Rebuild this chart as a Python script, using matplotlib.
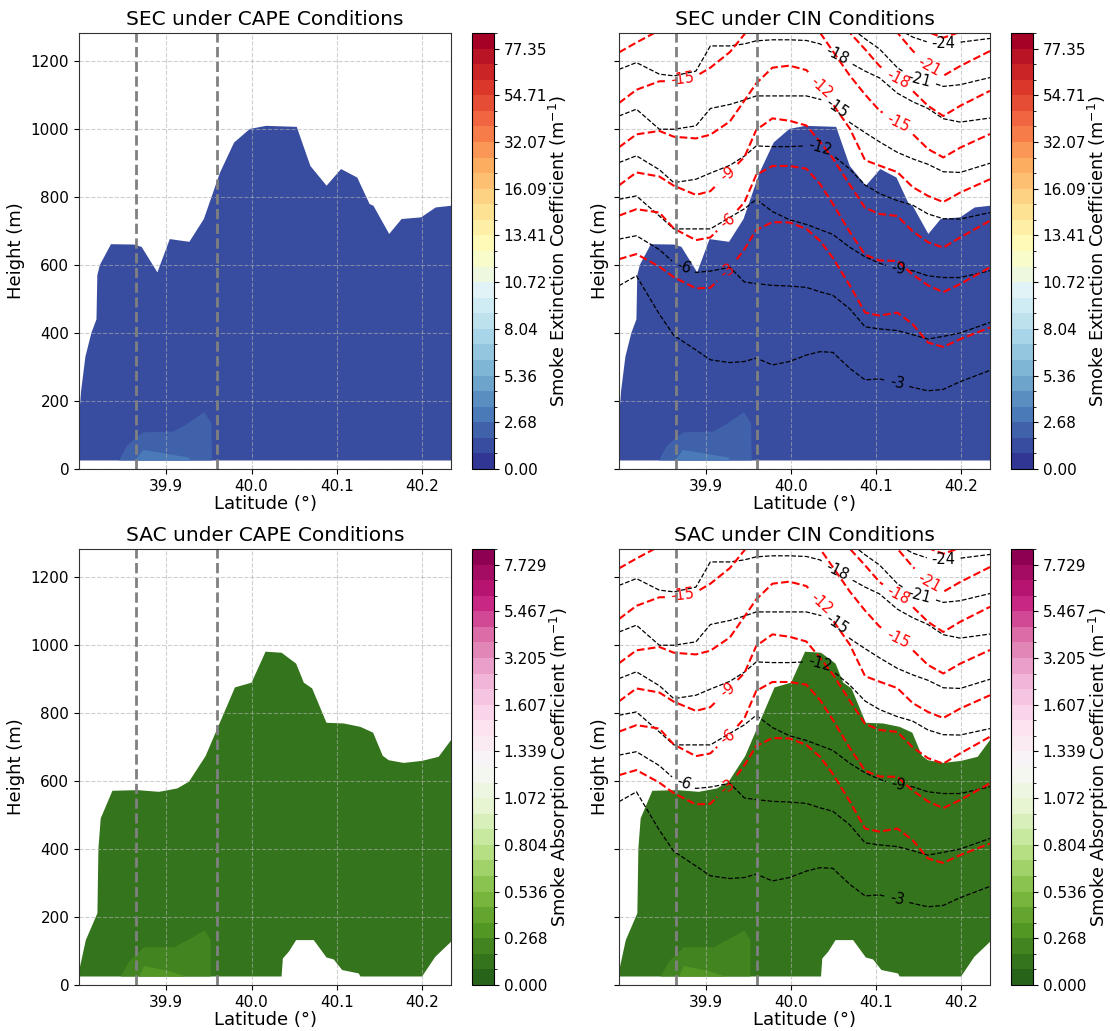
import numpy as np
import matplotlib
matplotlib.use("Agg")
import matplotlib.pyplot as plt
from matplotlib.colors import BoundaryNorm
from matplotlib.cm import ScalarMappable
from matplotlib.contour import ContourSet

# ---- colour scales (labelled colorbar ticks) ----
sec_ticks = [0.00, 2.68, 5.36, 8.04, 10.72, 13.41, 16.09, 32.07, 54.71, 77.35]
sec_top_level = 84.90
sac_ticks = [0.000, 0.268, 0.536, 0.804, 1.072, 1.339, 1.607, 3.205, 5.467, 7.729]
sac_top_level = 8.490

# ---- SEC region (outline of the data area, lat / height m) ----
sec_lat = [39.7975, 39.800, 39.805, 39.812, 39.818, 39.819, 39.822, 39.835, 39.862, 39.871,
           39.8895, 39.904, 39.927, 39.944, 39.963, 39.9795, 39.998, 40.017, 40.053, 40.069,
           40.088, 40.105, 40.124, 40.1385, 40.143, 40.1615, 40.176, 40.199, 40.216, 40.234]
sec_top = [150, 230, 330, 400, 440, 570, 600, 661, 660, 653,
           578, 676, 668, 735, 872, 960, 1000, 1009, 1006, 891,
           833, 882, 857, 779, 774, 691, 735, 740, 769, 774]
sec_value = 1.3
# lighter patches near the ground
sec_p1_lat = [39.8445, 39.853, 39.865, 39.873, 39.908, 39.922, 39.9445, 39.953, 39.9535]
sec_p1_top = [25, 66, 93, 108, 110, 129, 167, 134, 25]
sec_p1_value = 2.2
sec_p2_lat = [39.863, 39.873, 39.926, 39.928]
sec_p2_top = [25, 56, 34, 25]
sec_p2_value = 3.1

# ---- SAC region ----
sac_lat = [39.7975, 39.8055, 39.8191, 39.8203, 39.823, 39.8367, 39.866, 39.8914, 39.9129, 39.9266,
           39.946, 39.9598, 39.9805, 40.000, 40.0164, 40.0352, 40.0523, 40.0613, 40.0711, 40.0879,
           40.1082, 40.1277, 40.1426, 40.1539, 40.1609, 40.1785, 40.200, 40.2195, 40.234]
sac_top = [40, 132, 211, 402, 490, 571, 573, 568, 578, 598,
           673, 754, 875, 889, 980, 977, 945, 889, 872, 771,
           769, 759, 742, 674, 661, 653, 659, 671, 720]
sac_bot_lat = [39.7975, 40.0352, 40.0367, 40.0437, 40.0523, 40.073, 40.0879, 40.0965, 40.1063,
               40.1258, 40.1277, 40.200, 40.2156, 40.234]
sac_bot = [25, 25, 78, 98, 132, 132, 81, 75, 44, 34, 25, 25, 83, 127]
sac_value = 0.13
sac_p1_lat = [39.8465, 39.8563, 39.8738, 39.909, 39.9305, 39.9449, 39.952, 39.952]
sac_p1_top = [25, 69, 111, 111, 140, 160, 132, 25]
sac_p1_value = 0.22
sac_p2_lat = [39.868, 39.8738, 39.903, 39.9227]
sac_p2_top = [25, 56, 41, 25]
sac_p2_value = 0.31

ground = 25
marker_lats = [39.864, 39.96]

# ---- CIN contour lines: height (m) of each level at each latitude column ----
cin_lat = [39.7975, 39.818, 39.845, 39.862, 39.888, 39.905, 39.928, 39.945, 39.959, 39.978,
           39.998, 40.018, 40.034, 40.049, 40.069, 40.087, 40.104, 40.125, 40.143, 40.161,
           40.179, 40.199, 40.234]
cin_levels = [-3, -6, -9, -12, -15, -18, -21, -24]
black_lines = [
    [539, 568, 455, 393, 350, 321, 313, 316, 326, 306, 316, 335, 345, 343, 296, 262, 265, 252, 240, 230, 234, 257, 290],
    [676, 686, 645, 607, 578, 582, 593, 550, 545, 540, 538, 534, 521, 511, 471, 418, 412, 407, 395, 382, 390, 400, 431],
    [793, 803, 744, 706, 706, 706, 740, 765, 793, 757, 733, 719, 704, 690, 652, 624, 605, 588, 583, 568, 563, 563, 583],
    [901, 921, 880, 842, 852, 870, 893, 920, 950, 948, 948, 950, 945, 923, 882, 835, 810, 789, 776, 750, 736, 735, 754],
    [1038, 1058, 999, 999, 1009, 1060, 1072, 1085, 1097, 1097, 1097, 1097, 1087, 1075, 1019, 989, 962, 931, 912, 896, 874, 872, 899],
    [1175, 1195, 1161, 1156, 1170, 1244, 1244, 1250, 1259, 1262, 1262, 1260, 1250, 1225, 1195, 1170, 1150, 1105, 1080, 1060, 1030, 1020, 1032],
    [1320, 1340, 1300, 1295, 1310, 1380, 1390, 1400, 1410, 1400, 1390, 1380, 1360, 1330, 1300, 1265, 1235, 1180, 1150, 1140, 1125, 1130, 1151],
    [1460, 1480, 1440, 1430, 1450, 1520, 1530, 1540, 1550, 1540, 1520, 1500, 1480, 1450, 1420, 1380, 1340, 1295, 1270, 1255, 1250, 1255, 1266],
]
red_lines = [
    [617, 632, 595, 564, 531, 533, 590, 646, 703, 726, 725, 706, 671, 621, 540, 460, 451, 460, 426, 372, 359, 382, 416],
    [745, 764, 754, 707, 673, 681, 737, 784, 865, 891, 891, 883, 838, 780, 697, 630, 613, 612, 572, 540, 520, 544, 593],
    [834, 872, 860, 833, 806, 817, 874, 917, 997, 1031, 1024, 1010, 962, 914, 836, 768, 750, 744, 699, 667, 651, 681, 730],
    [946, 984, 994, 977, 972, 983, 1022, 1083, 1134, 1180, 1186, 1173, 1128, 1073, 1001, 908, 892, 873, 829, 803, 785, 813, 852],
    [1076, 1115, 1140, 1141, 1155, 1180, 1226, 1278, 1340, 1380, 1390, 1360, 1283, 1229, 1157, 1101, 1054, 1019, 985, 941, 916, 945, 985],
    [1225, 1254, 1290, 1310, 1330, 1370, 1420, 1450, 1480, 1520, 1530, 1500, 1440, 1380, 1283, 1234, 1185, 1146, 1112, 1068, 1038, 1068, 1112],
    [1380, 1400, 1430, 1450, 1470, 1510, 1560, 1590, 1620, 1660, 1670, 1640, 1580, 1520, 1430, 1380, 1330, 1283, 1230, 1185, 1156, 1185, 1229],
    [1530, 1550, 1580, 1600, 1620, 1660, 1710, 1740, 1770, 1810, 1820, 1790, 1730, 1670, 1580, 1520, 1460, 1400, 1350, 1285, 1268, 1285, 1330],
]
black_label_pos = [(40.126, 269), (39.873, 593), (40.126, 588), (40.034, 945),
                   (40.055, 1068), (40.055, 1220), (40.151, 1146), (40.18, 1229)]
red_label_pos = [(39.925, 583), (39.925, 730), (39.925, 867), (40.036, 1122),
                 (39.873, 1141), (40.126, 1019), (40.126, 1146), (40.1615, 1180)]


def make_levels(ticks, top):
    parts = [np.linspace(a, b, 4)[:-1] for a, b in zip(ticks[:-1], ticks[1:])]
    return np.concatenate(parts + [[ticks[-1], top]])


def draw_cin(ax, lines, color, lw, label_pos):
    # contour set built straight from the read line vertices (levels ascending)
    order = np.argsort(cin_levels)
    levels = [cin_levels[k] for k in order]
    segs = [[np.column_stack([cin_lat, lines[k]])] for k in order]
    cs = ContourSet(ax, levels, segs, colors=color, linestyles="--", linewidths=lw)
    ax.clabel(cs, fmt="%d", fontsize=10.5, inline=True, manual=label_pos)


fig = plt.figure(figsize=(11.1, 10.31), dpi=100)

W, H = 1110, 1031
rects = {
    "tl": [79 / W, 1 - 469 / H, 372 / W, 436 / H],
    "tr": [619 / W, 1 - 469 / H, 371 / W, 436 / H],
    "bl": [79 / W, 1 - 985 / H, 372 / W, 436 / H],
    "br": [619 / W, 1 - 985 / H, 371 / W, 436 / H],
}
cbar_rects = {
    "tl": [472 / W, 1 - 469 / H, 22 / W, 436 / H],
    "tr": [1011 / W, 1 - 469 / H, 22 / W, 436 / H],
    "bl": [472 / W, 1 - 985 / H, 22 / W, 436 / H],
    "br": [1011 / W, 1 - 985 / H, 22 / W, 436 / H],
}

panels = [
    ("tl", "SEC under CAPE Conditions", "sec", False),
    ("tr", "SEC under CIN Conditions", "sec", True),
    ("bl", "SAC under CAPE Conditions", "sac", False),
    ("br", "SAC under CIN Conditions", "sac", True),
]

for key, title, kind, with_cin in panels:
    ax = fig.add_axes(rects[key])
    if kind == "sec":
        ticks, top, cmap_name = sec_ticks, sec_top_level, "RdYlBu_r"
        label = "Smoke Extinction Coefficient (m$^{-1}$)"
        fmt = "%.2f"
    else:
        ticks, top, cmap_name = sac_ticks, sac_top_level, "PiYG_r"
        label = "Smoke Absorption Coefficient (m$^{-1}$)"
        fmt = "%.3f"
    levels = make_levels(ticks, top)
    cmap = plt.get_cmap(cmap_name)
    norm = BoundaryNorm(levels, cmap.N)

    if kind == "sec":
        ax.fill(sec_lat + [sec_lat[-1], sec_lat[0]], sec_top + [ground, ground],
                color=cmap(norm(sec_value)), lw=0)
        ax.fill(sec_p1_lat, sec_p1_top, color=cmap(norm(sec_p1_value)), lw=0)
        ax.fill(sec_p2_lat, sec_p2_top, color=cmap(norm(sec_p2_value)), lw=0)
    else:
        ax.fill(sac_lat + sac_bot_lat[::-1], sac_top + sac_bot[::-1],
                color=cmap(norm(sac_value)), lw=0)
        ax.fill(sac_p1_lat, sac_p1_top, color=cmap(norm(sac_p1_value)), lw=0)
        ax.fill(sac_p2_lat, sac_p2_top, color=cmap(norm(sac_p2_value)), lw=0)

    if with_cin:
        draw_cin(ax, black_lines, "black", 0.9, black_label_pos)
        draw_cin(ax, red_lines, "red", 1.5, red_label_pos)

    for lat in marker_lats:
        ax.axvline(lat, color="gray", linestyle="--", linewidth=2)

    ax.set_xlim(sec_lat[0], sec_lat[-1])
    ax.set_ylim(0, 1282)
    ax.set_xticks([39.9, 40.0, 40.1, 40.2])
    ax.set_yticks(range(0, 1201, 200))
    ax.grid(True, linestyle="--", color="#b0b0b0", alpha=0.6, linewidth=0.8)
    ax.tick_params(labelsize=11)
    ax.set_title(title, fontsize=14.5)
    ax.set_xlabel("Latitude (°)", fontsize=13, labelpad=1)
    ax.set_ylabel("Height (m)", fontsize=13)
    if with_cin:
        ax.tick_params(labelleft=False)
    for s in ax.spines.values():
        s.set_color("#333333")

    cax = fig.add_axes(cbar_rects[key])
    sm = ScalarMappable(norm=norm, cmap=cmap)
    cb = fig.colorbar(sm, cax=cax, ticks=ticks, format=fmt)
    cb.set_ticks(levels, minor=True)
    cb.ax.tick_params(labelsize=11)
    cb.set_label(label, fontsize=12.8, labelpad=0)

fig.savefig("out.png", dpi=100)
